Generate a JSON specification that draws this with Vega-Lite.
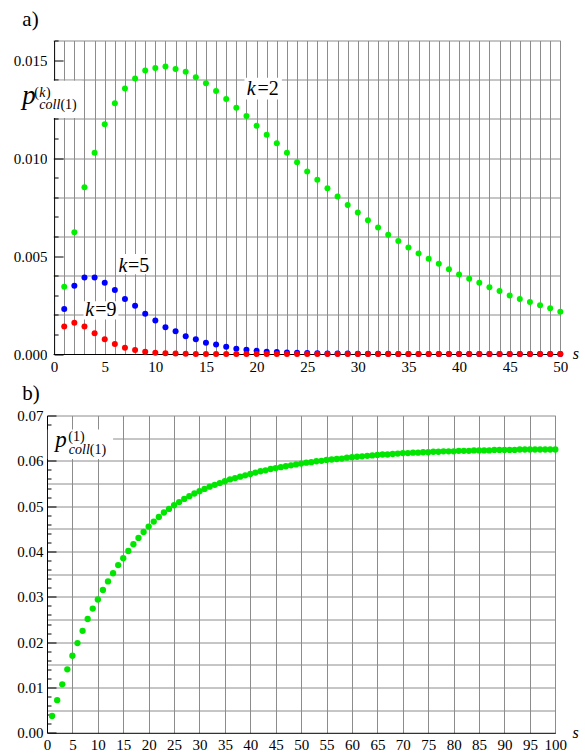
{
  "$schema": "https://vega.github.io/schema/vega-lite/v6.json",
  "background": "white",
  "padding": {"left": 13, "top": 8.5, "right": 0, "bottom": 0},
  "spacing": 8,
  "config": {
    "view": {"stroke": null},
    "axis": {
      "labelFont": "Liberation Serif", "labelFontSize": 15, "labelColor": "black",
      "domainColor": "black", "domainWidth": 1, "gridColor": "#8c8c8c", "gridWidth": 1,
      "tickColor": "black", "labelOverlap": false, "labelBound": false, "labelFlush": false
    }
  },
  "datasets": {
    "top": [
      {"s":1,"v":0.00343,"k":"2"},{"s":2,"v":0.00621,"k":"2"},{"s":3,"v":0.00851,"k":"2"},{"s":4,"v":0.01027,"k":"2"},{"s":5,"v":0.01172,"k":"2"},
      {"s":6,"v":0.01280,"k":"2"},{"s":7,"v":0.01355,"k":"2"},{"s":8,"v":0.01406,"k":"2"},{"s":9,"v":0.01447,"k":"2"},{"s":10,"v":0.01460,"k":"2"},
      {"s":11,"v":0.01467,"k":"2"},{"s":12,"v":0.01455,"k":"2"},{"s":13,"v":0.01440,"k":"2"},{"s":14,"v":0.01413,"k":"2"},{"s":15,"v":0.01382,"k":"2"},
      {"s":16,"v":0.01342,"k":"2"},{"s":17,"v":0.01302,"k":"2"},{"s":18,"v":0.01257,"k":"2"},{"s":19,"v":0.01215,"k":"2"},{"s":20,"v":0.01165,"k":"2"},
      {"s":21,"v":0.01119,"k":"2"},{"s":22,"v":0.01075,"k":"2"},{"s":23,"v":0.01027,"k":"2"},{"s":24,"v":0.00979,"k":"2"},{"s":25,"v":0.00931,"k":"2"},
      {"s":26,"v":0.00889,"k":"2"},{"s":27,"v":0.00846,"k":"2"},{"s":28,"v":0.00804,"k":"2"},{"s":29,"v":0.00761,"k":"2"},{"s":30,"v":0.00722,"k":"2"},
      {"s":31,"v":0.00682,"k":"2"},{"s":32,"v":0.00646,"k":"2"},{"s":33,"v":0.00609,"k":"2"},{"s":34,"v":0.00577,"k":"2"},{"s":35,"v":0.00544,"k":"2"},
      {"s":36,"v":0.00513,"k":"2"},{"s":37,"v":0.00486,"k":"2"},{"s":38,"v":0.00461,"k":"2"},{"s":39,"v":0.00432,"k":"2"},{"s":40,"v":0.00406,"k":"2"},
      {"s":41,"v":0.00384,"k":"2"},{"s":42,"v":0.00363,"k":"2"},{"s":43,"v":0.00341,"k":"2"},{"s":44,"v":0.00321,"k":"2"},{"s":45,"v":0.00298,"k":"2"},
      {"s":46,"v":0.00281,"k":"2"},{"s":47,"v":0.00266,"k":"2"},{"s":48,"v":0.00249,"k":"2"},{"s":49,"v":0.00234,"k":"2"},{"s":50,"v":0.00216,"k":"2"},
      {"s":1,"v":0.00230,"k":"5"},{"s":2,"v":0.00348,"k":"5"},{"s":3,"v":0.00391,"k":"5"},{"s":4,"v":0.00391,"k":"5"},{"s":5,"v":0.00363,"k":"5"},
      {"s":6,"v":0.00326,"k":"5"},{"s":7,"v":0.00281,"k":"5"},{"s":8,"v":0.00246,"k":"5"},{"s":9,"v":0.00206,"k":"5"},{"s":10,"v":0.00171,"k":"5"},
      {"s":11,"v":0.00137,"k":"5"},{"s":12,"v":0.00116,"k":"5"},{"s":13,"v":0.00091,"k":"5"},{"s":14,"v":0.00075,"k":"5"},{"s":15,"v":0.00058,"k":"5"},
      {"s":16,"v":0.00048,"k":"5"},{"s":17,"v":0.00037,"k":"5"},{"s":18,"v":0.00027,"k":"5"},{"s":19,"v":0.00022,"k":"5"},{"s":20,"v":0.00017,"k":"5"},
      {"s":21,"v":0.00012,"k":"5"},{"s":22,"v":0.00010,"k":"5"},{"s":23,"v":0.00008,"k":"5"},{"s":24,"v":0.00006,"k":"5"},{"s":25,"v":0.00005,"k":"5"},
      {"s":26,"v":0.00004,"k":"5"},{"s":27,"v":0.00003,"k":"5"},{"s":28,"v":0.00002,"k":"5"},{"s":29,"v":0.00002,"k":"5"},{"s":30,"v":0.00001,"k":"5"},
      {"s":31,"v":0.00001,"k":"5"},{"s":32,"v":0.00001,"k":"5"},{"s":33,"v":0.00001,"k":"5"},{"s":34,"v":0,"k":"5"},{"s":35,"v":0,"k":"5"},
      {"s":36,"v":0,"k":"5"},{"s":37,"v":0,"k":"5"},{"s":38,"v":0,"k":"5"},{"s":39,"v":0,"k":"5"},{"s":40,"v":0,"k":"5"},
      {"s":41,"v":0,"k":"5"},{"s":42,"v":0,"k":"5"},{"s":43,"v":0,"k":"5"},{"s":44,"v":0,"k":"5"},{"s":45,"v":0,"k":"5"},
      {"s":46,"v":0,"k":"5"},{"s":47,"v":0,"k":"5"},{"s":48,"v":0,"k":"5"},{"s":49,"v":0,"k":"5"},{"s":50,"v":0,"k":"5"},
      {"s":1,"v":0.00140,"k":"9"},{"s":2,"v":0.00160,"k":"9"},{"s":3,"v":0.00140,"k":"9"},{"s":4,"v":0.00106,"k":"9"},{"s":5,"v":0.00075,"k":"9"},
      {"s":6,"v":0.00051,"k":"9"},{"s":7,"v":0.00032,"k":"9"},{"s":8,"v":0.00020,"k":"9"},{"s":9,"v":0.00011,"k":"9"},{"s":10,"v":0.00006,"k":"9"},
      {"s":11,"v":0.00004,"k":"9"},{"s":12,"v":0.00002,"k":"9"},{"s":13,"v":0.00001,"k":"9"},{"s":14,"v":0,"k":"9"},{"s":15,"v":0,"k":"9"},
      {"s":16,"v":0,"k":"9"},{"s":17,"v":0,"k":"9"},{"s":18,"v":0,"k":"9"},{"s":19,"v":0,"k":"9"},{"s":20,"v":0,"k":"9"},
      {"s":21,"v":0,"k":"9"},{"s":22,"v":0,"k":"9"},{"s":23,"v":0,"k":"9"},{"s":24,"v":0,"k":"9"},{"s":25,"v":0,"k":"9"},
      {"s":26,"v":0,"k":"9"},{"s":27,"v":0,"k":"9"},{"s":28,"v":0,"k":"9"},{"s":29,"v":0,"k":"9"},{"s":30,"v":0,"k":"9"},
      {"s":31,"v":0,"k":"9"},{"s":32,"v":0,"k":"9"},{"s":33,"v":0,"k":"9"},{"s":34,"v":0,"k":"9"},{"s":35,"v":0,"k":"9"},
      {"s":36,"v":0,"k":"9"},{"s":37,"v":0,"k":"9"},{"s":38,"v":0,"k":"9"},{"s":39,"v":0,"k":"9"},{"s":40,"v":0,"k":"9"},
      {"s":41,"v":0,"k":"9"},{"s":42,"v":0,"k":"9"},{"s":43,"v":0,"k":"9"},{"s":44,"v":0,"k":"9"},{"s":45,"v":0,"k":"9"},
      {"s":46,"v":0,"k":"9"},{"s":47,"v":0,"k":"9"},{"s":48,"v":0,"k":"9"},{"s":49,"v":0,"k":"9"},{"s":50,"v":0,"k":"9"}
    ],
    "topCover": [{"s":-0.7013,"s2":-0.05,"v":-0.0001,"v2":0.0162}],
    "topBoxes": [
      {"s":-3.6,"s2":2.8,"v":0.01205,"v2":0.01395},
      {"s":18.8,"s2":22.5,"v":0.01299,"v2":0.01410},
      {"s":6.15,"s2":9.8,"v":0.00407,"v2":0.00510},
      {"s":2.9,"s2":6.35,"v":0.00176,"v2":0.00269}
    ],
    "topPanelLabel": [{"s":-3.14,"v":0.01673,"t":"a)"}],
    "topP": [{"s":-3.15,"v":0.01277,"t":"p"}],
    "topItalicSmall": [{"s":-1.46,"v":0.01313,"t":"k"},{"s":-1.46,"v":0.01251,"t":"coll"}],
    "topNormalSmall": [{"s":-1.95,"v":0.01313,"t":"("},{"s":-0.8,"v":0.01313,"t":")"},{"s":0.62,"v":0.01251,"t":"(1)"}],
    "topKItalic": [{"s":19.04,"v":0.01323,"t":"k"},{"s":6.35,"v":0.0042,"t":"k"},{"s":3.08,"v":0.00192,"t":"k"}],
    "topKNormal": [{"s":20.1,"v":0.01323,"t":"=2"},{"s":7.3,"v":0.0042,"t":"=5"},{"s":4.07,"v":0.00192,"t":"=9"}],
    "bottom": [
      {"s":1,"v":0.0037},{"s":2,"v":0.0072},{"s":3,"v":0.0107},{"s":4,"v":0.0140},{"s":5,"v":0.0170},
      {"s":6,"v":0.0198},{"s":7,"v":0.0225},{"s":8,"v":0.0251},{"s":9,"v":0.0274},{"s":10,"v":0.0294},
      {"s":11,"v":0.0315},{"s":12,"v":0.0334},{"s":13,"v":0.0352},{"s":14,"v":0.0370},{"s":15,"v":0.0385},
      {"s":16,"v":0.0401},{"s":17,"v":0.0416},{"s":18,"v":0.0430},{"s":19,"v":0.0443},{"s":20,"v":0.0455},
      {"s":21,"v":0.0466},{"s":22,"v":0.0476},{"s":23,"v":0.0486},{"s":24,"v":0.0494},{"s":25,"v":0.0502},
      {"s":26,"v":0.0509},{"s":27,"v":0.0516},{"s":28,"v":0.0522},{"s":29,"v":0.0528},{"s":30,"v":0.0533},
      {"s":31,"v":0.0538},{"s":32,"v":0.0543},{"s":33,"v":0.0547},{"s":34,"v":0.0551},{"s":35,"v":0.0555},
      {"s":36,"v":0.0559},{"s":37,"v":0.0562},{"s":38,"v":0.0565},{"s":39,"v":0.0568},{"s":40,"v":0.0571},
      {"s":41,"v":0.0574},{"s":42,"v":0.0577},{"s":43,"v":0.0579},{"s":44,"v":0.0582},{"s":45,"v":0.0584},
      {"s":46,"v":0.0586},{"s":47,"v":0.0588},{"s":48,"v":0.0590},{"s":49,"v":0.0592},{"s":50,"v":0.0594},
      {"s":51,"v":0.0596},{"s":52,"v":0.0597},{"s":53,"v":0.0599},{"s":54,"v":0.0600},{"s":55,"v":0.0602},
      {"s":56,"v":0.0603},{"s":57,"v":0.0604},{"s":58,"v":0.0605},{"s":59,"v":0.0607},{"s":60,"v":0.0608},
      {"s":61,"v":0.0609},{"s":62,"v":0.0610},{"s":63,"v":0.0611},{"s":64,"v":0.0612},{"s":65,"v":0.0613},
      {"s":66,"v":0.0614},{"s":67,"v":0.0614},{"s":68,"v":0.0615},{"s":69,"v":0.0616},{"s":70,"v":0.0617},
      {"s":71,"v":0.0617},{"s":72,"v":0.0618},{"s":73,"v":0.0618},{"s":74,"v":0.0619},{"s":75,"v":0.0619},
      {"s":76,"v":0.0620},{"s":77,"v":0.0620},{"s":78,"v":0.0621},{"s":79,"v":0.0621},{"s":80,"v":0.0621},
      {"s":81,"v":0.0622},{"s":82,"v":0.0622},{"s":83,"v":0.0622},{"s":84,"v":0.0623},{"s":85,"v":0.0623},
      {"s":86,"v":0.0623},{"s":87,"v":0.0623},{"s":88,"v":0.0624},{"s":89,"v":0.0624},{"s":90,"v":0.0624},
      {"s":91,"v":0.0624},{"s":92,"v":0.0624},{"s":93,"v":0.0625},{"s":94,"v":0.0625},{"s":95,"v":0.0625},
      {"s":96,"v":0.0625},{"s":97,"v":0.0625},{"s":98,"v":0.0625},{"s":99,"v":0.0625},{"s":100,"v":0.0625}
    ],
    "bottomBoxes": [{"s":0.15,"s2":13,"v":0.0604,"v2":0.0669}],
    "bottomPanelLabel": [{"s":-4.86,"v":0.0734,"t":"b)"}],
    "bottomP": [{"s":1.63,"v":0.06316,"t":"p"}],
    "bottomItalicSmall": [{"s":4.29,"v":0.0614,"t":"coll"}],
    "bottomNormalSmall": [{"s":4.19,"v":0.06448,"t":"(1)"},{"s":8.42,"v":0.0614,"t":"(1)"}]
  },
  "vconcat": [
    {
      "width": 513.3,
      "height": 313.5,
      "encoding": {
        "x": {
          "field": "s", "type": "quantitative",
          "scale": {"domain": [-0.7013, 50], "nice": false, "zero": false},
          "axis": {
            "values": [0,1,2,3,4,5,6,7,8,9,10,11,12,13,14,15,16,17,18,19,20,21,22,23,24,25,26,27,28,29,30,31,32,33,34,35,36,37,38,39,40,41,42,43,44,45,46,47,48,49,50],
            "labelExpr": "datum.value % 5 == 0 ? datum.label : ''",
            "ticks": false,
            "labelPadding": 5,
            "gridOpacity": {"condition": {"test": "datum.value > 0", "value": 1}, "value": 0},
            "title": "s", "titleFont": "Liberation Serif", "titleFontStyle": "italic", "titleFontWeight": "normal",
            "titleFontSize": 16, "titleColor": "black", "titleAngle": 0, "titleAlign": "center", "titleBaseline": "alphabetic",
            "titleX": 528.3, "titleY": 4
          }
        },
        "y": {
          "field": "v", "type": "quantitative",
          "scale": {"domain": [0, 0.016], "nice": false, "zero": false},
          "axis": {
            "offset": -7.1,
            "values": [0,0.001,0.002,0.003,0.004,0.005,0.006,0.007,0.008,0.009,0.01,0.011,0.012,0.013,0.014,0.015,0.016],
            "labelExpr": "round(datum.value*1000) % 5 == 0 ? format(datum.value, '.3f') : ''",
            "labelPadding": 16,
            "tickSize": {"condition": {"test": "round(datum.value*1000) % 5 == 0", "value": -9}, "value": -4},
            "gridOpacity": {"condition": {"test": "round(datum.value*1000) % 2 == 0 && datum.value > 0", "value": 1}, "value": 0},
            "title": null
          }
        }
      },
      "layer": [
        {
          "data": {"name": "topCover"},
          "mark": {"type": "rect", "color": "white", "strokeWidth": 0},
          "encoding": {"x2": {"field": "s2"}, "y2": {"field": "v2"}}
        },
        {
          "data": {"name": "topBoxes"},
          "mark": {"type": "rect", "color": "white", "strokeWidth": 0},
          "encoding": {"x2": {"field": "s2"}, "y2": {"field": "v2"}}
        },
        {
          "data": {"name": "top"},
          "mark": {"type": "circle", "size": 36, "opacity": 1},
          "encoding": {
            "color": {"field": "k", "type": "nominal", "scale": {"domain": ["2", "5", "9"], "range": ["#00f000", "#0000ff", "#ff0000"]}, "legend": null}
          }
        },
        {
          "data": {"name": "topPanelLabel"},
          "mark": {"type": "text", "font": "Liberation Serif", "fontSize": 21, "align": "left", "baseline": "alphabetic", "color": "black"},
          "encoding": {"text": {"field": "t"}}
        },
        {
          "data": {"name": "topP"},
          "mark": {"type": "text", "font": "Liberation Serif", "fontStyle": "italic", "fontSize": 27, "align": "left", "baseline": "alphabetic", "color": "black"},
          "encoding": {"text": {"field": "t"}}
        },
        {
          "data": {"name": "topItalicSmall"},
          "mark": {"type": "text", "font": "Liberation Serif", "fontStyle": "italic", "fontSize": 14, "align": "left", "baseline": "alphabetic", "color": "black"},
          "encoding": {"text": {"field": "t"}}
        },
        {
          "data": {"name": "topNormalSmall"},
          "mark": {"type": "text", "font": "Liberation Serif", "fontSize": 14, "align": "left", "baseline": "alphabetic", "color": "black"},
          "encoding": {"text": {"field": "t"}}
        },
        {
          "data": {"name": "topKItalic"},
          "mark": {"type": "text", "font": "Liberation Serif", "fontStyle": "italic", "fontSize": 20, "align": "left", "baseline": "alphabetic", "color": "black"},
          "encoding": {"text": {"field": "t"}}
        },
        {
          "data": {"name": "topKNormal"},
          "mark": {"type": "text", "font": "Liberation Serif", "fontSize": 20, "align": "left", "baseline": "alphabetic", "color": "black"},
          "encoding": {"text": {"field": "t"}}
        }
      ]
    },
    {
      "width": 508.3,
      "height": 317.3,
      "encoding": {
        "x": {
          "field": "s", "type": "quantitative",
          "scale": {"domain": [0, 100], "nice": false, "zero": false},
          "axis": {
            "values": [0,5,10,15,20,25,30,35,40,45,50,55,60,65,70,75,80,85,90,95,100],
            "ticks": false,
            "labelPadding": 5,
            "gridOpacity": {"condition": {"test": "datum.value > 0", "value": 1}, "value": 0},
            "title": "s", "titleFont": "Liberation Serif", "titleFontStyle": "italic", "titleFontWeight": "normal",
            "titleFontSize": 16, "titleColor": "black", "titleAngle": 0, "titleAlign": "center", "titleBaseline": "alphabetic",
            "titleX": 528, "titleY": 5
          }
        },
        "y": {
          "field": "v", "type": "quantitative",
          "scale": {"domain": [0, 0.07], "nice": false, "zero": false},
          "axis": {
            "values": [0,0.001,0.002,0.003,0.004,0.005,0.006,0.007,0.008,0.009,0.01,0.011,0.012,0.013,0.014,0.015,0.016,0.017,0.018,0.019,0.02,0.021,0.022,0.023,0.024,0.025,0.026,0.027,0.028,0.029,0.03,0.031,0.032,0.033,0.034,0.035,0.036,0.037,0.038,0.039,0.04,0.041,0.042,0.043,0.044,0.045,0.046,0.047,0.048,0.049,0.05,0.051,0.052,0.053,0.054,0.055,0.056,0.057,0.058,0.059,0.06,0.061,0.062,0.063,0.064,0.065,0.066,0.067,0.068,0.069,0.07],
            "labelExpr": "round(datum.value*1000) % 10 == 0 ? format(datum.value, '.2f') : ''",
            "labelPadding": 13,
            "tickSize": {"condition": {"test": "round(datum.value*1000) % 10 == 0", "value": -9}, "value": -4},
            "tickOpacity": {"condition": {"test": "round(datum.value*1000) % 2 == 0", "value": 1}, "value": 0},
            "gridOpacity": {"condition": {"test": "round(datum.value*1000) % 5 == 0 && datum.value > 0", "value": 1}, "value": 0},
            "title": null
          }
        }
      },
      "layer": [
        {
          "data": {"name": "bottomBoxes"},
          "mark": {"type": "rect", "color": "white", "strokeWidth": 0},
          "encoding": {"x2": {"field": "s2"}, "y2": {"field": "v2"}}
        },
        {
          "data": {"name": "bottom"},
          "mark": {"type": "circle", "size": 40, "opacity": 1, "color": "#00e600"},
          "encoding": {}
        },
        {
          "data": {"name": "bottomPanelLabel"},
          "mark": {"type": "text", "font": "Liberation Serif", "fontSize": 21, "align": "left", "baseline": "alphabetic", "color": "black"},
          "encoding": {"text": {"field": "t"}}
        },
        {
          "data": {"name": "bottomP"},
          "mark": {"type": "text", "font": "Liberation Serif", "fontStyle": "italic", "fontSize": 23, "align": "left", "baseline": "alphabetic", "color": "black"},
          "encoding": {"text": {"field": "t"}}
        },
        {
          "data": {"name": "bottomItalicSmall"},
          "mark": {"type": "text", "font": "Liberation Serif", "fontStyle": "italic", "fontSize": 14, "align": "left", "baseline": "alphabetic", "color": "black"},
          "encoding": {"text": {"field": "t"}}
        },
        {
          "data": {"name": "bottomNormalSmall"},
          "mark": {"type": "text", "font": "Liberation Serif", "fontSize": 14, "align": "left", "baseline": "alphabetic", "color": "black"},
          "encoding": {"text": {"field": "t"}}
        }
      ]
    }
  ]
}
